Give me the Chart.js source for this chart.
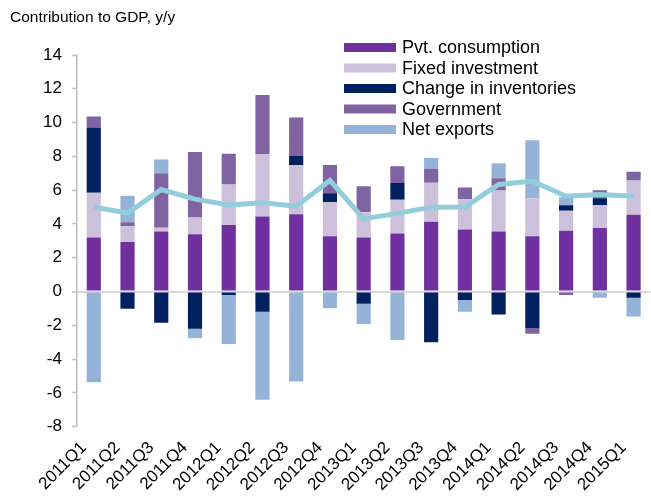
<!DOCTYPE html>
<html>
<head>
<meta charset="utf-8">
<script src="https://cdn.jsdelivr.net/npm/chart.js@4.4.1/dist/chart.umd.min.js"></script>
<style>
  html, body { margin: 0; padding: 0; background: #ffffff; overflow: hidden; }
  #wrap { width: 651px; height: 500px; position: relative; }
</style>
</head>
<body>
<div id="wrap"><canvas id="gdpChart"></canvas></div>
<script>
// quarters on the x axis
const quarters = ["2011Q1", "2011Q2", "2011Q3", "2011Q4", "2012Q1", "2012Q2", "2012Q3", "2012Q4",
    "2013Q1", "2013Q2", "2013Q3", "2013Q4", "2014Q1", "2014Q2", "2014Q3", "2014Q4", "2015Q1"];

// contributions to GDP growth, pp
const pvtConsumption = [3.2, 2.93, 3.56, 3.4, 3.94, 4.45, 4.57, 3.27, 3.2, 3.44, 4.14, 3.68, 3.56, 3.27, 3.6, 3.76, 4.55];
const fixedInvestment = [2.65, 0.93, 0.22, 0.99, 2.4, 3.69, 2.9, 2.02, 1.49, 1.99, 2.3, 1.79, 2.42, 2.26, 1.19, 1.35, 2.03];
const inventories = [3.86, -1.02, -1.85, -2.2, -0.2, -1.19, 0.55, 0.53, -0.72, 0.99, -3.0, -0.5, -1.35, -2.16, 0.32, 0.42, -0.36];
const government = [0.65, 0.24, 3.23, 3.87, 1.82, 3.49, 2.28, 1.67, 1.55, 0.99, 0.83, 0.69, 0.73, -0.34, -0.2, 0.47, 0.51];
const netExports = [-5.37, 1.57, 0.81, -0.56, -2.9, -5.21, -5.32, -0.99, -1.19, -2.86, 0.63, -0.69, 0.88, 3.42, 0.47, -0.36, -1.11];

// GDP growth y/y (line)
const gdpGrowth = [5.0, 4.65, 6.04, 5.47, 5.13, 5.25, 5.05, 6.58, 4.3, 4.63, 4.99, 5.0, 6.34, 6.54, 5.64, 5.74, 5.64];

// y axis
const yMin = -8;
const yMax = 14;
const yStep = 2;

const FONT = "'Liberation Sans', Arial, sans-serif";

// title + legend drawn by hand, Excel style
const overlay = {
    id: "overlay",
    afterDraw(chart) {
        const c = chart.ctx;
        c.save();
        c.fillStyle = "#000000";
        c.font = "15.5px " + FONT;
        c.textBaseline = "alphabetic";
        c.textAlign = "left";
        c.fillText("Contribution to GDP, y/y", 10, 22);

        c.font = "18px " + FONT;
        c.textBaseline = "middle";
        let y = 47.5;
        chart.data.datasets.forEach(ds => {
            if (ds.type !== "bar") return;
            c.fillStyle = ds.backgroundColor;
            c.fillRect(344, y - 4.5, 52, 9);
            c.fillStyle = "#000000";
            c.fillText(ds.label, 402, y + 1);
            y += 20.5;
        });
        c.restore();
    }
};

const barDs = (label, data, color) => ({
    type: "bar",
    label: label,
    data: data,
    backgroundColor: color,
    borderWidth: 0,
    barPercentage: 0.42,
    categoryPercentage: 1.0,
    order: 1
});

new Chart(document.getElementById("gdpChart").getContext("2d"), {
    data: {
        labels: quarters,
        datasets: [
            {
                type: "line",
                label: "GDP",
                data: gdpGrowth,
                borderColor: "#92CDDC",
                borderWidth: 5,
                pointRadius: 0,
                tension: 0,
                fill: false,
                stack: "total",
                order: 0
            },
            barDs("Pvt. consumption", pvtConsumption, "#7030A0"),
            barDs("Fixed investment", fixedInvestment, "#CCC0DA"),
            barDs("Change in inventories", inventories, "#002060"),
            barDs("Government", government, "#8064A2"),
            barDs("Net exports", netExports, "#95B3D7")
        ]
    },
    options: {
        responsive: true,
        maintainAspectRatio: false,
        animation: false,
        layout: {
            padding: { top: 55, left: 33, right: 0, bottom: 2 }
        },
        plugins: {
            legend: { display: false },
            tooltip: { enabled: false },
            title: { display: false }
        },
        scales: {
            x: {
                stacked: true,
                grid: { display: false },
                border: { display: false },
                ticks: {
                    color: "#000000",
                    font: { family: FONT, size: 17 },
                    minRotation: 45,
                    maxRotation: 45,
                    padding: 3,
                    labelOffset: -10,
                    autoSkip: false
                }
            },
            y: {
                stacked: true,
                min: yMin,
                max: yMax,
                border: { display: true, color: "#BFBFBF", width: 1.5 },
                grid: {
                    drawTicks: true,
                    tickLength: 5,
                    tickColor: "#BFBFBF",
                    tickWidth: 1.5,
                    color: ctx => (ctx.tick && ctx.tick.value === 0 ? "#D9D9D9" : "rgba(0,0,0,0)"),
                    lineWidth: ctx => (ctx.tick && ctx.tick.value === 0 ? 2 : 1)
                },
                ticks: {
                    stepSize: yStep,
                    color: "#000000",
                    font: { family: FONT, size: 17 },
                    padding: 10
                }
            }
        }
    },
    plugins: [overlay]
});
</script>
</body>
</html>
